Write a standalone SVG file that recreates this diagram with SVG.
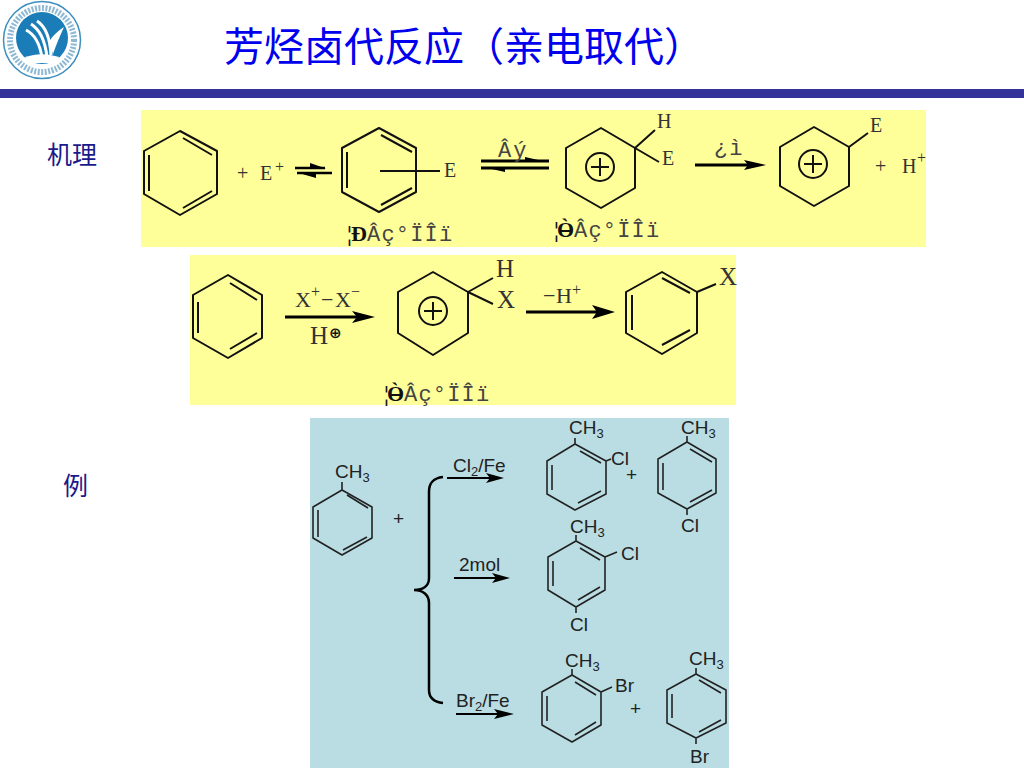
<svg xmlns="http://www.w3.org/2000/svg" width="1024" height="768" viewBox="0 0 1024 768">
<style>
.b{fill:none;stroke:#111;stroke-width:2;stroke-linejoin:round}
.t{fill:none;stroke:#222;stroke-width:1.6;stroke-linejoin:round}
.a{stroke:#000;stroke-width:3;fill:none}
.h{fill:#000;stroke:none}
.m{font-family:"Liberation Serif",serif;font-size:20px;fill:#333}
.q{font-family:"Liberation Mono",monospace;font-size:22px;letter-spacing:2px;fill:#444}
.m2{font-family:"Liberation Serif",serif;font-size:22px;fill:#333}
.l{font-size:25px}
.p{font-size:16px}
.s{font-family:"Liberation Sans",Arial,sans-serif;font-size:19px;fill:#222}
.u{font-size:13px}
.k{font-family:"Liberation Mono",monospace;font-size:22px;letter-spacing:1.2px;fill:#444}
.o{font-family:"Liberation Serif",serif;font-size:22px;fill:#111;font-weight:bold}
.c{font-family:"Noto Sans CJK SC",sans-serif;font-size:25px;fill:#1a1a8c}
</style>
<rect x="0" y="0" width="1024" height="768" fill="#fff"/>
<g id="logo">
<circle cx="42" cy="40" r="38.5" fill="#fff" stroke="#3d8fbe" stroke-width="1.5"/>
<circle cx="42" cy="40" r="32" fill="none" stroke="#2f7fb0" stroke-width="6" stroke-dasharray="2 1.5" opacity=".55"/>
<circle cx="42" cy="38" r="26" fill="#1b7db8"/>
<path d="M26 30C34 34 40 44 42 58M31 24C39 29 45 40 47 57M37 21C45 26 50 38 51 55" fill="none" stroke="#fff" stroke-width="3"/>
<path d="M49 42C53 35 58 31 64 27C60 36 56 45 53 54Z" fill="#fff"/>
<path d="M24 58C34 53 50 53 60 58L56 63H28Z" fill="#fff"/>
</g>
<text id="title" x="224" y="61" font-family="'Noto Sans CJK SC',sans-serif" font-size="40" fill="#0000ee">芳烃卤代反应（亲电取代）</text>
<rect id="bar" x="0" y="89" width="1024" height="9" fill="#333399"/>
<rect id="panel1" x="141" y="110" width="785" height="137" fill="#ffff99"/>
<rect id="panel2" x="190" y="255" width="546" height="150" fill="#ffff99"/>
<rect id="panel3" x="310" y="418" width="419" height="350" fill="#b9dde2"/>
<text id="label-jili" class="c" x="47" y="164">机理</text>
<text id="label-li" class="c" x="63" y="495">例</text>

<g id="connectors">
<path class="a" style="stroke-width:2.500" d="M295 168H325M297 173H332"/>
<path class="h" d="M310 163L326 168.500H310ZM316 178L297 172.500H316Z"/>
<path class="a" d="M481 161H549M481 168H549"/>
<path class="h" d="M525 157L547 162H525ZM505 172L483 167H505Z"/>
<path class="a" d="M695 165H750"/><path class="h" d="M744 160L766 165L744 170L748 165Z"/>
<path class="a" d="M285 317H360"/><path class="h" d="M352 311L375 317L352 323L357 317Z"/>
<path class="a" d="M526 312H600"/><path class="h" d="M592 305L615 312L592 319L597 312Z"/>
<path class="a" style="stroke-width:2" d="M447 478H492"/><path class="h" d="M486 473L504 478L486 483L490 478Z"/>
<path class="a" style="stroke-width:2" d="M454 578H498"/><path class="h" d="M492 573L510 578L492 583L496 578Z"/>
<path class="a" style="stroke-width:2" d="M456 714H500"/><path class="h" d="M494 709L514 714L494 719L498 714Z"/>
<path id="brace" fill="none" stroke="#000" stroke-width="2.500" d="M443 477C434 478 429 482 429 492V578C429 586 423 590 414 590C423 590 429 595 429 603V690C429 698 434 702 443 703"/>
</g>

<g id="benzene1"><path class="b" d="M180 131L217 151V194L180 215L144 194V151ZM183 138L212 155M183 208L212 191M149 155V191"/></g>
<g id="plus-e"><text class="m" x="237" y="180">+</text><text class="m" x="260" y="180">E</text><text class="m p" x="275" y="172">+</text></g>
<g id="pi-complex"><path class="b" d="M379 128L416 148V192L379 212L342 192V148ZM381 135L412 152M381 205L412 188M347 152V188M380 171H440"/>
<text class="m" x="444" y="177">E</text>
<text class="o" x="347" y="241">¦</text><text class="o" x="351" y="241">Ð</text>
<text class="k" x="367" y="241">Âç°ÏÎï</text></g>
<text id="slow" class="q" x="498" y="157">Âý</text>
<g id="sigma-complex"><path class="b" d="M601 128L635 148V188L601 208L566 188V148ZM635 148L655 130M635 148L659 162"/>
<circle class="b" cx="600" cy="167" r="14"/><path class="b" d="M591 167H609M600 158V176"/>
<text class="m" x="657" y="128">H</text><text class="m" x="662" y="165">E</text>
<text class="o" x="554" y="237">¦</text><text class="o" x="557" y="237">Ò</text><path class="b" d="M559 231H572"/>
<text class="k" x="574" y="237">Âç°ÏÎï</text></g>
<text id="fast" class="q" x="714" y="155">¿ì</text>
<g id="product-ion"><path class="b" d="M814 127L849 147V186L814 206L780 186V147ZM849 147L868 133"/>
<circle class="b" cx="813" cy="164" r="14"/><path class="b" d="M804 164H822M813 155V173"/>
<text class="m" x="870" y="132">E</text><text class="m" x="875" y="173">+</text><text class="m" x="902" y="173">H</text><text class="m p" x="917" y="163">+</text></g>

<g id="benzene2"><path class="b" d="M228 275L262 295V338L228 358L193 338V295ZM230 283L257 300M230 349L257 333M198 302V333"/></g>
<g id="reagent-x"><text class="m2" x="295" y="307">X</text><text class="m2 p" x="311" y="297">+</text><text class="m2" x="321" y="307">−</text><text class="m2" x="335" y="307">X</text><text class="m2 p" x="351" y="297">−</text>
<text class="m2 l" x="310" y="344">H</text><text x="329" y="338" font-family="'DejaVu Sans',sans-serif" font-size="15" font-weight="bold" fill="#111">⊕</text></g>
<g id="sigma-x"><path class="b" d="M433 272L468 292V333L433 355L398 333V292ZM468 292L493 278M468 292L493 304"/>
<circle class="b" cx="433" cy="311" r="14"/><path class="b" d="M424 311H442M433 302V320"/>
<text class="m2 l" x="496" y="277">H</text><text class="m2 l" x="497" y="308">X</text>
<text class="o" x="384" y="401">¦</text><text class="o" x="387" y="401">Ò</text><path class="b" d="M389 395H402"/>
<text class="k" x="404" y="401">Âç°ÏÎï</text></g>
<g id="minus-h"><text class="m2" x="543" y="303">−</text><text class="m2" x="556" y="303">H</text><text class="m2 p" x="572" y="295">+</text></g>
<g id="halobenzene"><path class="b" d="M662 272L697 292V333L662 354L626 333V292ZM662 278L690 293M662 345L690 330M632 295V330M697 292L716 284"/>
<text class="m2 l" x="719" y="285">X</text></g>

<g id="toluene"><path class="t" d="M342 490L372 507V538L342 555L313 538V507ZM347 495L368 508M343 550L367 537M318 510V537M342 490V482"/>
<text class="s" x="335" y="478">CH<tspan class="u" dy="4">3</tspan></text></g>
<text id="plus" class="s" x="393" y="525">+</text>
<text id="cond1" class="s" x="453" y="472">Cl<tspan class="u" dy="4">2</tspan><tspan dy="-4">/Fe</tspan></text>
<text id="cond2" class="s" x="459" y="571">2mol</text>
<text id="cond3" class="s" x="456" y="707">Br<tspan class="u" dy="4">2</tspan><tspan dy="-4">/Fe</tspan></text>

<g id="o-chloro"><path class="t" d="M575 444L606 461V494L575 510L547 494V461ZM580 451L601 463M578 503L601 491M552 465V490M575 444V438M606 461L611 459"/>
<text class="s" x="569" y="434">CH<tspan class="u" dy="4">3</tspan></text><text class="s" x="611" y="465">Cl</text></g>
<text id="plus-a" class="s" x="626" y="481">+</text>
<g id="p-chloro"><path class="t" d="M687 442L716 459V493L687 509L658 493V459ZM690 449L712 462M690 502L712 490M663 463V490M687 442V436M687 509V515"/>
<text class="s" x="681" y="434">CH<tspan class="u" dy="4">3</tspan></text><text class="s" x="681" y="532">Cl</text></g>
<g id="dichloro"><path class="t" d="M576 541L605 557V590L576 607L548 590V557ZM580 548L600 560M578 600L600 587M553 561V586M576 541V535M605 557L617 552M576 607V613"/>
<text class="s" x="570" y="533">CH<tspan class="u" dy="4">3</tspan></text><text class="s" x="621" y="560">Cl</text><text class="s" x="570" y="631">Cl</text></g>
<g id="o-bromo"><path class="t" d="M572 675L601 692V725L572 742L542 725V692ZM575 682L596 695M575 735L596 722M547 696V721M572 675V669M601 692L612 687"/>
<text class="s" x="565" y="667">CH<tspan class="u" dy="4">3</tspan></text><text class="s" x="615" y="692">Br</text></g>
<text id="plus-b" class="s" x="630" y="715">+</text>
<g id="p-bromo"><path class="t" d="M696 674L726 690V723L696 738L667 723V690ZM699 680L721 693M699 732L721 720M672 694V718M696 674V668M696 738V744"/>
<text class="s" x="689" y="665">CH<tspan class="u" dy="4">3</tspan></text><text class="s" x="690" y="763">Br</text></g>
</svg>
